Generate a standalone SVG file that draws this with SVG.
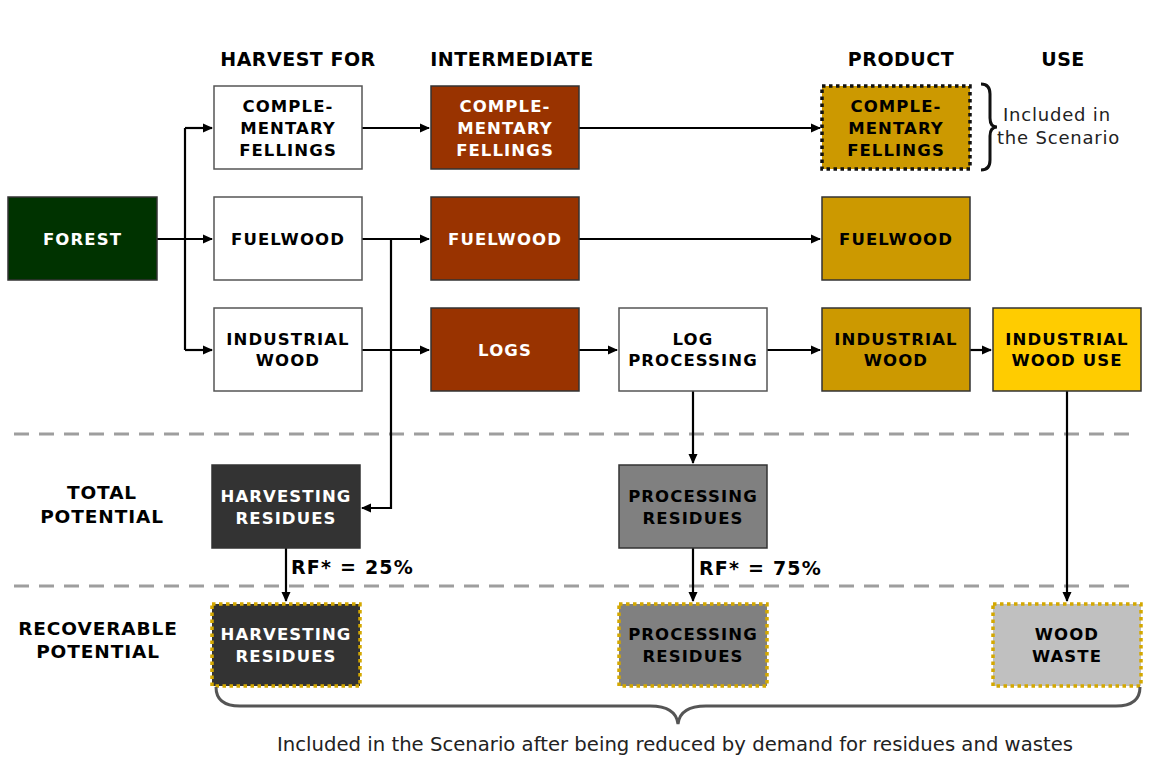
<svg xmlns="http://www.w3.org/2000/svg" width="1153" height="758" viewBox="0 0 1153 758">
<defs>
<marker id="ah" markerWidth="10" markerHeight="10" refX="9" refY="5" orient="auto" markerUnits="userSpaceOnUse">
<path d="M0,0.5 L10,5 L0,9.5 Z" fill="#000"/>
</marker>
<style>
.box{stroke:#333;stroke-width:1.5}
.w{fill:#fff;stroke:#555}
.bt{font-family:"DejaVu Sans",Verdana,sans-serif;font-weight:bold;font-size:16.5px;letter-spacing:1.1px;text-anchor:middle}
.hd{font-family:"DejaVu Sans",Verdana,sans-serif;font-weight:bold;font-size:19px;letter-spacing:0.5px;text-anchor:middle;fill:#000}
.sd{font-family:"DejaVu Sans",Verdana,sans-serif;font-weight:bold;font-size:18.5px;letter-spacing:0.9px;text-anchor:middle;fill:#000}
.rf{font-family:"DejaVu Sans",Verdana,sans-serif;font-weight:bold;font-size:19px;letter-spacing:1.2px;fill:#000}
.lt{fill:#fff}
.dk{fill:#000}
.con{fill:none;stroke:#000;stroke-width:2.2}
.sep{stroke:#9e9e9e;stroke-width:3;stroke-dasharray:15,10}
.dot{stroke:#d4a800;stroke-width:3.5;stroke-dasharray:3.5,3.5}
.nt{font-family:"DejaVu Sans",Verdana,sans-serif;font-size:18px;letter-spacing:0.8px;fill:#222}
</style>
</defs>
<rect width="1153" height="758" fill="#fff"/>
<g id="headers">
<text class="hd" x="298" y="66">HARVEST FOR</text>
<text class="hd" x="512" y="66">INTERMEDIATE</text>
<text class="hd" x="901" y="66">PRODUCT</text>
<text class="hd" x="1063" y="66">USE</text>
<text class="sd" x="102" y="499">TOTAL</text>
<text class="sd" x="102" y="523">POTENTIAL</text>
<text class="sd" x="98" y="635">RECOVERABLE</text>
<text class="sd" x="98" y="658">POTENTIAL</text>
</g>
<g id="separators">
<line class="sep" x1="14" y1="434" x2="1136" y2="434"/>
<line class="sep" x1="14" y1="586" x2="1136" y2="586"/>
</g>
<g id="connectors">
<path class="con" d="M157,239 H212" marker-end="url(#ah)"/>
<path class="con" d="M185,128 V350"/>
<path class="con" d="M185,128 H212" marker-end="url(#ah)"/>
<path class="con" d="M185,350 H212" marker-end="url(#ah)"/>
<path class="con" d="M362,128 H429" marker-end="url(#ah)"/>
<path class="con" d="M579,128 H820" marker-end="url(#ah)"/>
<path class="con" d="M362,239 H429" marker-end="url(#ah)"/>
<path class="con" d="M579,239 H820" marker-end="url(#ah)"/>
<path class="con" d="M362,350 H429" marker-end="url(#ah)"/>
<path class="con" d="M579,350 H617" marker-end="url(#ah)"/>
<path class="con" d="M767,350 H820" marker-end="url(#ah)"/>
<path class="con" d="M970,350 H991" marker-end="url(#ah)"/>
<path class="con" d="M391,239 V508 H362" marker-end="url(#ah)"/>
<path class="con" d="M693,391 V463" marker-end="url(#ah)"/>
<path class="con" d="M286,548 V601" marker-end="url(#ah)"/>
<path class="con" d="M693,548 V601" marker-end="url(#ah)"/>
<path class="con" d="M1067,391 V601" marker-end="url(#ah)"/>
</g>
<g id="forest">
<rect class="box" x="8" y="197" width="149" height="83" fill="#003300"/>
<text class="bt lt" x="82.5" y="245">FOREST</text>
</g>
<g id="h-comp">
<rect class="box w" x="214" y="86" width="148" height="83"/>
<text class="bt dk" x="288" y="112">COMPLE-</text>
<text class="bt dk" x="288" y="134">MENTARY</text>
<text class="bt dk" x="288" y="156">FELLINGS</text>
</g>
<g id="h-fuel">
<rect class="box w" x="214" y="197" width="148" height="83"/>
<text class="bt dk" x="288" y="245">FUELWOOD</text>
</g>
<g id="h-ind">
<rect class="box w" x="214" y="308" width="148" height="83"/>
<text class="bt dk" x="288" y="345">INDUSTRIAL</text>
<text class="bt dk" x="288" y="366">WOOD</text>
</g>
<g id="i-comp">
<rect class="box" x="431" y="86" width="148" height="83" fill="#993300"/>
<text class="bt lt" x="505" y="112">COMPLE-</text>
<text class="bt lt" x="505" y="134">MENTARY</text>
<text class="bt lt" x="505" y="156">FELLINGS</text>
</g>
<g id="i-fuel">
<rect class="box" x="431" y="197" width="148" height="83" fill="#993300"/>
<text class="bt lt" x="505" y="245">FUELWOOD</text>
</g>
<g id="i-logs">
<rect class="box" x="431" y="308" width="148" height="83" fill="#993300"/>
<text class="bt lt" x="505" y="356">LOGS</text>
</g>
<g id="log-proc">
<rect class="box w" x="619" y="308" width="148" height="83"/>
<text class="bt dk" x="693" y="345">LOG</text>
<text class="bt dk" x="693" y="366">PROCESSING</text>
</g>
<g id="p-comp">
<rect x="822" y="86" width="148" height="83" fill="#cc9900" stroke="#111" stroke-width="3.5" stroke-dasharray="3.5,3.5"/>
<text class="bt dk" x="896" y="112">COMPLE-</text>
<text class="bt dk" x="896" y="134">MENTARY</text>
<text class="bt dk" x="896" y="156">FELLINGS</text>
</g>
<g id="p-fuel">
<rect class="box" x="822" y="197" width="148" height="83" fill="#cc9900"/>
<text class="bt dk" x="896" y="245">FUELWOOD</text>
</g>
<g id="p-ind">
<rect class="box" x="822" y="308" width="148" height="83" fill="#cc9900"/>
<text class="bt dk" x="896" y="345">INDUSTRIAL</text>
<text class="bt dk" x="896" y="366">WOOD</text>
</g>
<g id="use">
<rect class="box" x="993" y="308" width="148" height="83" fill="#ffcc00"/>
<text class="bt dk" x="1067" y="345">INDUSTRIAL</text>
<text class="bt dk" x="1067" y="366">WOOD USE</text>
</g>
<g id="t-harv">
<rect class="box" x="212" y="465" width="148" height="83" fill="#333"/>
<text class="bt lt" x="286" y="502">HARVESTING</text>
<text class="bt lt" x="286" y="524">RESIDUES</text>
</g>
<g id="t-proc">
<rect class="box" x="619" y="465" width="148" height="83" fill="#808080"/>
<text class="bt dk" x="693" y="502">PROCESSING</text>
<text class="bt dk" x="693" y="524">RESIDUES</text>
</g>
<g id="r-harv">
<rect class="dot" x="212" y="604" width="148" height="82" fill="#333"/>
<text class="bt lt" x="286" y="640">HARVESTING</text>
<text class="bt lt" x="286" y="662">RESIDUES</text>
</g>
<g id="r-proc">
<rect class="dot" x="619" y="604" width="148" height="82" fill="#808080"/>
<text class="bt dk" x="693" y="640">PROCESSING</text>
<text class="bt dk" x="693" y="662">RESIDUES</text>
</g>
<g id="r-waste">
<rect class="dot" x="993" y="604" width="148" height="82" fill="#c0c0c0"/>
<text class="bt dk" x="1067" y="640">WOOD</text>
<text class="bt dk" x="1067" y="662">WASTE</text>
</g>
<g id="labels">
<text class="rf" x="291" y="574">RF* = 25%</text>
<text class="rf" x="699" y="575">RF* = 75%</text>
<path d="M981,84 Q990,84 990,94 V118 Q990,127 997,127 Q990,127 990,136 V160 Q990,170 981,170" fill="none" stroke="#111" stroke-width="3"/>
<text class="nt" x="1003" y="121">Included in</text>
<text class="nt" x="997" y="144">the Scenario</text>
<path d="M216,687 Q216,706 240,706 H650 Q676,706 678,724 Q680,706 706,706 H1116 Q1140,706 1140,687" fill="none" stroke="#555" stroke-width="3"/>
<text class="nt" x="675" y="751" text-anchor="middle" style="letter-spacing:0;font-size:19px" textLength="796" lengthAdjust="spacingAndGlyphs">Included in the Scenario after being reduced by demand for residues and wastes</text>
</g>
</svg>
